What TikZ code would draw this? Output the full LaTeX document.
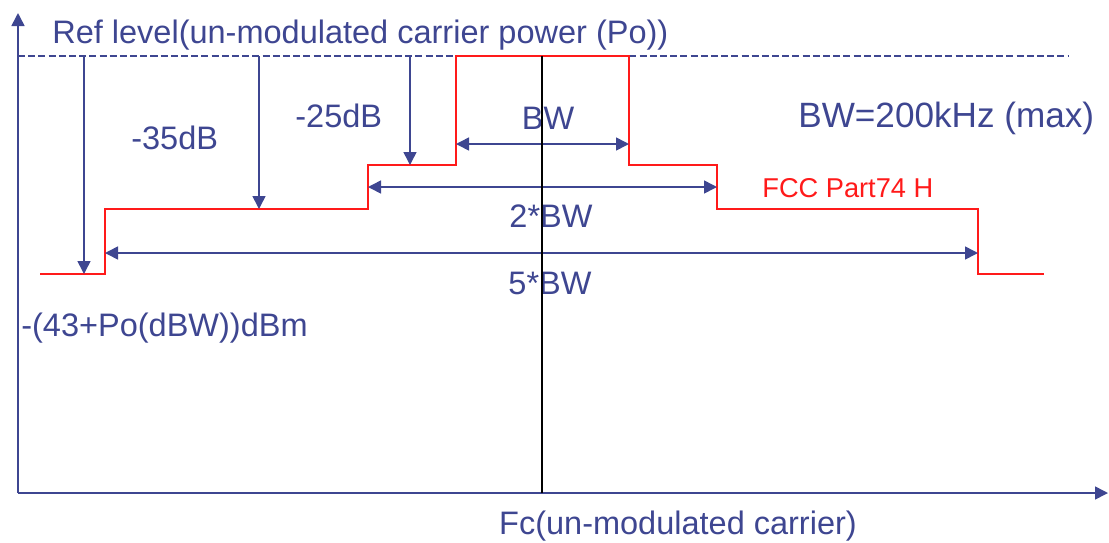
\documentclass[tikz,border=0pt]{standalone}
\usepackage{fontspec}
\setmainfont{Liberation Sans}
\usetikzlibrary{arrows.meta}

\begin{document}
\begin{tikzpicture}[x=0.02cm, y=-0.02cm]

% Colours
\definecolor{colTxt}{HTML}{3E4691}
\definecolor{colMask}{HTML}{FF1A1A}

\tikzset{
  lab/.style={font=\fontsize{18.5}{22}\selectfont, text=colTxt, inner sep=0pt, anchor=base west},
  labc/.style={lab, anchor=base},
  axis/.style={colTxt, line width=0.9pt},
  tip/.style={-{Triangle[length=7.4pt, width=7.4pt]}},
  dim/.style={colTxt, line width=0.9pt, tip},
  dimb/.style={colTxt, line width=0.9pt, {Triangle[length=7.4pt, width=7.4pt]}-{Triangle[length=7.4pt, width=7.4pt]}},
  mask/.style={colMask, line width=1.1pt},
}

\useasboundingbox (0,0) rectangle (1109,542);

% Axes
\coordinate (O) at (18,493);
\coordinate (ytop) at (18,13);
\coordinate (xend) at (1108,493);
\draw[axis, tip] (O) -- (ytop);
\draw[axis, tip] (O) -- (xend);

% Reference level (dashed)
\coordinate (refL) at (18,56);
\coordinate (refR) at (1068,56);
\draw[colTxt, line width=0.8pt, dash pattern=on 4pt off 1.8pt] (refL) -- (refR);

% Spectrum mask (FCC Part74 H)
\coordinate (m1) at (40,274);
\coordinate (m2) at (105,274);
\coordinate (m3) at (105,209);
\coordinate (m4) at (368,209);
\coordinate (m5) at (368,165);
\coordinate (m6) at (456,165);
\coordinate (m7) at (456,56);
\coordinate (m8) at (629,56);
\coordinate (m9) at (629,165);
\coordinate (m10) at (717,165);
\coordinate (m11) at (717,209);
\coordinate (m12) at (978,209);
\coordinate (m13) at (978,274);
\coordinate (m14) at (1044,274);
\draw[mask] (m1) -- (m2) -- (m3) -- (m4) -- (m5) -- (m6) -- (m7) -- (m8)
  -- (m9) -- (m10) -- (m11) -- (m12) -- (m13) -- (m14);

% Attenuation arrows
\coordinate (a1) at (84,56);   \coordinate (a1e) at (84,274);
\coordinate (a2) at (259,56);  \coordinate (a2e) at (259,209);
\coordinate (a3) at (410,56);  \coordinate (a3e) at (410,165);
\draw[dim] (a1) -- (a1e);
\draw[dim] (a2) -- (a2e);
\draw[dim] (a3) -- (a3e);

% Bandwidth arrows
\coordinate (bw1L) at (456,144); \coordinate (bw1R) at (629,144);
\coordinate (bw2L) at (368,187); \coordinate (bw2R) at (717,187);
\coordinate (bw5L) at (105,253); \coordinate (bw5R) at (978,253);
\draw[dimb] (bw1L) -- (bw1R);
\draw[dimb] (bw2L) -- (bw2R);
\draw[dimb] (bw5L) -- (bw5R);

% Labels
\node[lab] (ref) at (52,43) {Ref level(un-modulated carrier power (Po))};
\node[lab] (att35) at (131,149) {-35dB};
\node[lab] (att25) at (295,127) {-25dB};
\node[labc] (bw) at (548,129) {BW};
\node[labc] (bw2) at (551,227) {2*BW};
\node[labc] (bw5) at (550,294) {5*BW};
\node[lab, font=\fontsize{20}{24}\selectfont] (bwmax) at (798,127) {BW=200kHz (max)};
\node[lab, font=\fontsize{15.5}{19}\selectfont, text=colMask] (fcc) at (762,197) {FCC Part74 H};
\node[lab] (floor) at (21,336) {-(43+Po(dBW))dBm};
\node[labc] (fc) at (678,534) {Fc(un-modulated carrier)};

% Carrier line
\coordinate (fcTop) at (542,56);
\coordinate (fcBot) at (542,493);
\draw[black, line width=0.8pt] (fcTop) -- (fcBot);

\end{tikzpicture}
\end{document}
